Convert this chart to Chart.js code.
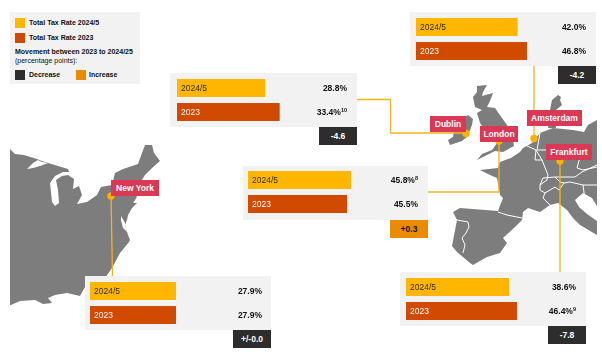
<!DOCTYPE html>
<html lang="en">
<head>
    <meta charset="UTF-8">
    <title>Total Tax Rate</title>
    <script src="https://cdn.jsdelivr.net/npm/chart.js"></script>
    <style>
        body {
            margin: 0;
            background: white;
            font-family: "Liberation Sans", Arial, sans-serif;
        }
        #page {
            position: relative;
            width: 602px;
            height: 360px;
            overflow: hidden;
        }
        #page > * {
            position: absolute;
        }
        #map {
            left: 0;
            top: 0;
        }
        .panel {
            background: #f2f2f2;
            height: 54px;
        }
        .badge {
            height: 18px;
            line-height: 18px;
            text-align: center;
            font-size: 8.5px;
            font-weight: bold;
        }
        .label {
            background: #d93954;
            color: white;
            font-size: 8.5px;
            font-weight: bold;
            line-height: 16px;
            height: 16px;
            text-align: center;
        }
        .barName, .barValue {
            font-size: 8.5px;
            line-height: 12px;
            height: 12px;
            white-space: nowrap;
        }
        .barValue {
            font-weight: bold;
            text-align: right;
            color: #111;
        }
        .barValue sup {
            font-size: 5.5px;
            line-height: 0;
            vertical-align: 3px;
        }
        #legend {
            left: 10px;
            top: 12px;
            width: 130px;
            height: 72px;
            background: #f2f2f2;
            font-size: 7px;
            color: #111;
        }
        #legend > * {
            position: absolute;
            white-space: nowrap;
        }
        #legend i {
            width: 10px;
            height: 10px;
        }
        #legend b {
            line-height: 10px;
        }
    </style>
</head>
<body>
    <div id="page">
        <svg id="map" width="602" height="360" viewBox="0 0 602 360">
            <g fill="#7d7d7d">
                <!-- USA -->
                <path d="M10 149 L15 154 L24 155 L37 159 L42 161 L48 163 L58 166 L68 169 L69 172 L63 172 L55 176 L50 183 L52 202 L55 206 L59 203 L58 190 L56 180 L62 176 L68 175 L74 179 L73 189 L79 186 L82 195 L77 204 L87 202 L97 195 L101 187 L112 185 L115 173 L123 169 L138 164 L142 153 L145 145 L152 145 L154 153 L160 161 L152 168 L145 175 L140 183 L135 195 L137 197 L133 203 L137 203 L132 208 L128 215 L127 220 L125 225 L128 235 L130 240 L129 242 L120 253 L112 268 L105 278 L95 283 L85 287 L80 296 L67 293 L55 295 L48 298 L52 303 L43 304 L35 300 L20 301 L11 305 L10 305 Z"/>
                <!-- Ireland, Great Britain, Denmark -->
                <path d="M468 115 L473 119 L472 125 L470 130 L467 137 L462 141 L450 145 L448 140 L453 137 L455 125 Z"/>
                <path d="M477 86 L487 85 L483 92 L482 96 L493 93 L490 101 L487 107 L495 108 L502 118 L507 125 L512 133 L514 146 L503 152 L495 151 L485 156 L477 160 L482 154 L492 150 L497 143 L490 135 L485 130 L480 123 L477 113 L482 110 L475 107 L473 97 L477 92 Z"/>
                <path d="M552 100 L558 95 L561 97 L560 100 L562 105 L556 110 L556 128 L548 128 L550 110 Z"/>
                <!-- Continental Europe -->
                <path d="M597 120 L588 125 L584 132 L573 130 L553 128 L540 133 L532 143 L523 148 L520 152 L511 158 L500 162 L498 168 L480 170 L490 175 L497 178 L500 195 L503 198 L498 211 L460 208 L453 212 L457 220 L452 246 L457 252 L470 263 L473 265 L487 257 L500 253 L507 243 L503 238 L515 227 L522 220 L523 212 L528 208 L540 212 L550 205 L558 203 L567 210 L573 218 L580 225 L597 235 Z"/>
            </g>
            <g fill="white">
                <!-- Lake Superior, Chesapeake, Adriatic -->
                <path d="M27 169 L33 163 L38 160 L42 162 L48 163 L40 166 L33 168 Z"/>
                <path d="M121 216 L125 223 L127 232 L123 228 L121 220 Z"/>
                <path d="M575 200 L583 193 L592 198 L597 206 L597 221 L587 214 L579 207 Z"/>
            </g>
            <g fill="none" stroke="white" stroke-width="1">
                <!-- borders -->
                <path d="M457 220 L468 222 L469 227 L466 233 L462 238 L465 245 L463 253"/>
                <path d="M498 212 L507 215 L522 218"/>
                <path d="M550 205 L543 198 L545 193 L540 190 L540 185 L547 180 L548 175 L546 170 L542 160 L536 150 L525 145"/>
                <path d="M540 185 L543 178 L555 177 L560 182 L564 183 L559 190 L555 187 L545 193"/>
                <path d="M564 183 L570 182 L583 185 L597 185"/>
                <path d="M555 177 L575 177 L582 172 L597 165"/>
                <path d="M536 150 L535 160 L542 160"/>
                <path d="M540 133 L537 150 L550 150"/>
                <path d="M580 157 L577 168 L583 170 L597 167"/>
                <path d="M583 185 L585 200 L592 203"/>
            </g>
            <!-- leader lines -->
            <g fill="none" stroke="#f4b41e" stroke-width="1.3">
                <path d="M357 99.5 H390.5 V133 H466"/>
                <path d="M534 66 V138"/>
                <path d="M428 192 H499 V142"/>
                <path d="M560 162 V272"/>
                <path d="M111 196 L112.5 276"/>
            </g>
            <g fill="#ffb000">
                <circle cx="466" cy="133.5" r="3.7"/>
                <circle cx="534" cy="138.5" r="3.7"/>
                <circle cx="499" cy="141" r="3.7"/>
                <circle cx="560" cy="161" r="3.7"/>
                <circle cx="111" cy="196" r="3.7"/>
            </g>
        </svg>

        <div id="legend">
            <i style="left:5px;top:5.5px;background:#ffb600"></i>
            <b style="left:19px;top:5.5px">Total Tax Rate 2024/5</b>
            <i style="left:5px;top:20.5px;background:#d04a02"></i>
            <b style="left:19px;top:21px">Total Tax Rate 2023</b>
            <b style="left:5px;top:35px">Movement between 2023 to 2024/25</b>
            <span style="left:5px;top:44px;line-height:10px">(percentage points):</span>
            <i style="left:5px;top:57.5px;background:#2d2d2d"></i>
            <b style="left:19px;top:57.5px">Decrease</b>
            <i style="left:65.5px;top:57.5px;background:#eb8c00"></i>
            <b style="left:79px;top:57.5px">Increase</b>
        </div>
    </div>

    <script>
        const cities = ['Dublin', 'Amsterdam', 'London', 'Frankfurt', 'New York'];
        const categories = ['2024/5', '2023'];
        const rates2024 = [28.8, 42.0, 45.8, 38.6, 27.9];
        const rates2023 = [33.4, 46.8, 45.5, 46.4, 27.9];
        const notes2024 = ['', '', '8', '', ''];
        const notes2023 = ['10', '', '', '9', ''];
        const movements = ['-4.6', '-4.2', '+0.3', '-7.8', '+/-0.0'];
        // the bars in the picture are not drawn to one scale, each has its own axis end
        const axisMax2024 = [55.6, 70.3, 75.6, 63.7, 55.8];
        const axisMax2023 = [55.3, 71.7, 78.1, 71.1, 55.8];

        const YELLOW = '#ffb600';
        const RUST = '#d04a02';

        // panel box, chart canvas and city label placement, same order as cities
        const panels = [
            { x: 170, y: 73, w: 187, cx: 177, cy: 76, cw: 170, lx: 430, ly: 115.5, lw: 36 },
            { x: 410, y: 12, w: 186, cx: 416, cy: 15, cw: 170, lx: 527, ly: 110, lw: 55 },
            { x: 243, y: 166, w: 185, cx: 248, cy: 168, cw: 170, lx: 480, ly: 125.5, lw: 38 },
            { x: 400, y: 272, w: 186, cx: 406, cy: 275, cw: 170, lx: 546, ly: 144, lw: 46 },
            { x: 85, y: 276, w: 186, cx: 90, cy: 279, cw: 172, lx: 111, ly: 180, lw: 48 }
        ];

        const page = document.getElementById('page');

        function addBox(className, left, top, width, text) {
            const el = document.createElement('div');
            el.className = className;
            el.style.left = left + 'px';
            el.style.top = top + 'px';
            el.style.width = width + 'px';
            el.textContent = text;
            page.appendChild(el);
            return el;
        }

        cities.forEach((city, i) => {
            const p = panels[i];
            addBox('panel', p.x, p.y, p.w, '');

            const badge = addBox('badge', p.x + p.w - 38, p.y + 54, 38, movements[i]);
            const up = movements[i].startsWith('+') && !movements[i].startsWith('+/-');
            badge.style.background = up ? '#eb8c00' : '#2d2d2d';
            badge.style.color = up ? '#111' : '#fff';

            addBox('label', p.lx, p.ly, p.lw, city);

            const canvas = document.createElement('canvas');
            canvas.width = p.cw;
            canvas.height = 48;
            canvas.style.left = p.cx + 'px';
            canvas.style.top = p.cy + 'px';
            page.appendChild(canvas);

            const chart = new Chart(canvas, {
                type: 'bar',
                data: {
                    labels: categories,
                    datasets: [
                        { data: [rates2024[i], null], backgroundColor: YELLOW, xAxisID: 'x24' },
                        { data: [null, rates2023[i]], backgroundColor: RUST, xAxisID: 'x23' }
                    ]
                },
                options: {
                    indexAxis: 'y',
                    responsive: false,
                    animation: false,
                    grouped: false,
                    barPercentage: 0.75,
                    categoryPercentage: 1,
                    layout: { padding: 0 },
                    scales: {
                        x24: { axis: 'x', display: false, min: 0, max: axisMax2024[i] },
                        x23: { axis: 'x', display: false, min: 0, max: axisMax2023[i] },
                        y: { display: false }
                    },
                    plugins: {
                        legend: { display: false },
                        tooltip: { enabled: false }
                    }
                }
            });

            // bar names and values go on top of the canvas, placed from the chart's scales
            const values = [rates2024[i], rates2023[i]];
            const notes = [notes2024[i], notes2023[i]];
            categories.forEach((name, j) => {
                const top = p.cy + chart.scales.y.getPixelForValue(j) - 6;
                const nameEl = addBox('barName', p.cx + chart.chartArea.left + 4, top, 60, name);
                nameEl.style.color = j === 0 ? '#2d2d2d' : '#fff';

                const valueEl = addBox('barValue', p.cx + chart.chartArea.right - 60, top, 60, values[j].toFixed(1) + '%');
                if (notes[j]) {
                    const sup = document.createElement('sup');
                    sup.textContent = notes[j];
                    valueEl.appendChild(sup);
                }
            });
        });
    </script>
</body>
</html>
